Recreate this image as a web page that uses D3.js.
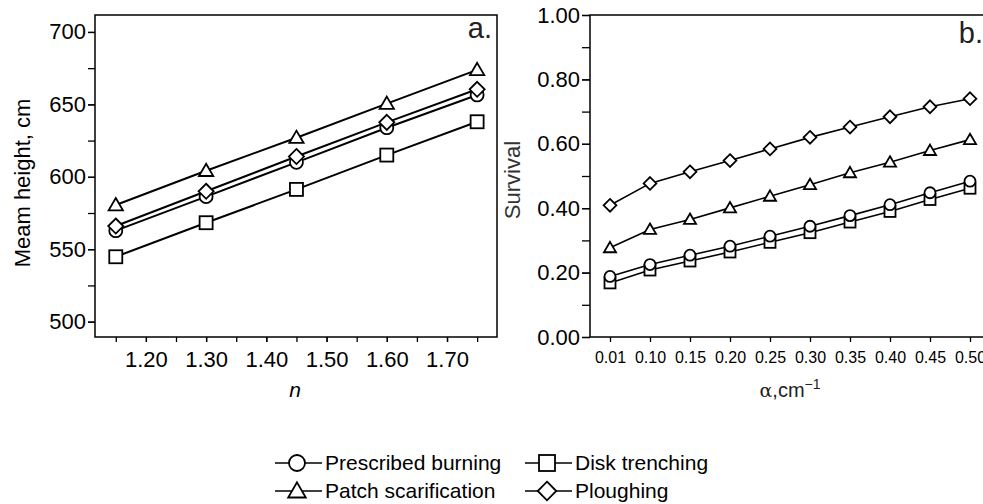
<!DOCTYPE html>
<html>
<head>
<meta charset="utf-8">
<script src="https://cdn.jsdelivr.net/npm/d3@7"></script>
<style>
  body { margin: 0; background: #fff; }
  svg { display: block; font-family: "Liberation Sans", Arial, sans-serif; }
</style>
</head>
<body>
<svg id="chart" width="983" height="504"></svg>
<script>
// panel a: mean height vs n
const nValues = [1.15, 1.30, 1.45, 1.60, 1.75];
const heightBurning = [562.8, 586.3, 610, 633.9, 656.5];
const heightTrenching = [544.8, 568.3, 591.3, 615, 638];
const heightScarif = [580.5, 604.2, 627, 650.5, 673.8];
const heightPlough = [566, 590, 614, 637.6, 660.4];
const nTickLabels = [1.20, 1.30, 1.40, 1.50, 1.60, 1.70];
const heightTicks = [500, 550, 600, 650, 700];

// panel b: survival vs alpha
const alphaLabels = ["0.01", "0.10", "0.15", "0.20", "0.25", "0.30", "0.35", "0.40", "0.45", "0.50"];
const survBurning = [0.188, 0.225, 0.254, 0.282, 0.313, 0.344, 0.377, 0.411, 0.448, 0.484];
const survTrenching = [0.168, 0.208, 0.236, 0.264, 0.294, 0.324, 0.357, 0.39, 0.427, 0.462];
const survScarif = [0.277, 0.334, 0.365, 0.401, 0.437, 0.473, 0.510, 0.543, 0.579, 0.613];
const survPlough = [0.409, 0.477, 0.513, 0.548, 0.584, 0.620, 0.652, 0.684, 0.715, 0.740];
const survTicks = [0, 0.2, 0.4, 0.6, 0.8, 1.0];

const treatments = ["Prescribed burning", "Disk trenching", "Patch scarification", "Ploughing"];
const shapes = ["circle", "square", "triangle", "diamond"];

const svg = d3.select("#chart");

function marker(g, shape, x, y, s) {
  let el;
  if (shape === "circle") {
    el = g.append("circle").attr("cx", x).attr("cy", y).attr("r", s * 0.5);
  } else if (shape === "square") {
    el = g.append("rect").attr("x", x - s / 2).attr("y", y - s / 2).attr("width", s).attr("height", s);
  } else if (shape === "triangle") {
    const h = s * 0.9;
    el = g.append("path").attr("d", `M${x},${y - h * 0.6}L${x + s * 0.55},${y + h * 0.45}L${x - s * 0.55},${y + h * 0.45}Z`);
  } else {
    const r = s * 0.58;
    el = g.append("path").attr("d", `M${x},${y - r}L${x + r},${y}L${x},${y + r}L${x - r},${y}Z`);
  }
  el.attr("fill", "#fff").attr("stroke", "#000").attr("stroke-width", 1.8);
}

function styleAxis(g, fs) {
  g.select(".domain").remove();
  g.selectAll(".tick line").attr("stroke", "#000").attr("stroke-width", 1.3);
  g.selectAll(".tick text").attr("fill", "#000").attr("font-size", fs)
    .attr("font-family", "'Liberation Sans', Arial, sans-serif");
}

// ---------- panel a ----------
const ax = d3.scaleLinear().domain([1.1155, 1.783]).range([95, 497]);
const ay = d3.scaleLinear().domain([489.4, 711.7]).range([337, 15]);

const pa = svg.append("g");
pa.append("g").attr("transform", "translate(95,0)")
  .call(d3.axisLeft(ay).tickValues(d3.range(500, 711, 25)).tickSize(7).tickFormat(() => ""))
  .call(g => styleAxis(g, 22));
pa.append("g").attr("transform", "translate(95,0)")
  .call(d3.axisLeft(ay).tickValues(heightTicks).tickSize(7).tickPadding(2).tickFormat(d3.format("d")))
  .call(g => styleAxis(g, 22));
pa.append("g").attr("transform", "translate(0,337)")
  .call(d3.axisBottom(ax).tickValues(d3.range(0, 13).map(i => 1.15 + i * 0.05)).tickSize(5).tickFormat(() => ""))
  .call(g => styleAxis(g, 22));
pa.append("g").attr("transform", "translate(0,337)")
  .call(d3.axisBottom(ax).tickValues(nTickLabels).tickSize(5).tickPadding(9).tickFormat(d3.format(".2f")))
  .call(g => styleAxis(g, 22));
pa.append("rect").attr("x", 95).attr("y", 15).attr("width", 402).attr("height", 322)
  .attr("fill", "none").attr("stroke", "#000").attr("stroke-width", 1.5);

const aSeries = [heightBurning, heightTrenching, heightScarif, heightPlough];
const aLine = d3.line().x((d, i) => ax(nValues[i])).y(d => ay(d));
[2, 3, 0, 1].forEach(k => {
  pa.append("path").attr("d", aLine(aSeries[k])).attr("fill", "none")
    .attr("stroke", "#000").attr("stroke-width", 2);
});
[0, 3, 2, 1].forEach(k => {
  aSeries[k].forEach((v, i) => marker(pa, shapes[k], ax(nValues[i]), ay(v), 13));
});
pa.append("text").attr("x", 492).attr("y", 38).attr("text-anchor", "end")
  .attr("font-size", 29).attr("fill", "#222").text("a.");
pa.append("text").attr("transform", "translate(30,183) rotate(-90)").attr("text-anchor", "middle")
  .attr("font-size", 22).text("Meam height, cm");
pa.append("text").attr("x", 295).attr("y", 397).attr("text-anchor", "middle")
  .attr("font-size", 21).attr("font-style", "italic").text("n");

// ---------- panel b ----------
const bx = d3.scalePoint().domain(alphaLabels).range([590, 990]).padding(0.5);
const by = d3.scaleLinear().domain([0, 1]).range([337, 15]);

const pb = svg.append("g");
pb.append("g").attr("transform", "translate(590,0)")
  .call(d3.axisLeft(by).tickValues(d3.range(0, 11).map(i => i / 10)).tickSize(8).tickFormat(() => ""))
  .call(g => styleAxis(g, 22));
pb.append("g").attr("transform", "translate(590,0)")
  .call(d3.axisLeft(by).tickValues(survTicks).tickSize(8).tickPadding(2).tickFormat(d3.format(".2f")))
  .call(g => styleAxis(g, 22));
pb.append("g").attr("transform", "translate(0,337)")
  .call(d3.axisBottom(bx).tickSize(5).tickPadding(10))
  .call(g => styleAxis(g, 16));
pb.append("rect").attr("x", 590).attr("y", 15).attr("width", 400).attr("height", 322)
  .attr("fill", "none").attr("stroke", "#000").attr("stroke-width", 1.5);

const bSeries = [survBurning, survTrenching, survScarif, survPlough];
const bLine = d3.line().x((d, i) => bx(alphaLabels[i])).y(d => by(d));
[3, 2, 1, 0].forEach(k => {
  pb.append("path").attr("d", bLine(bSeries[k])).attr("fill", "none")
    .attr("stroke", "#000").attr("stroke-width", 1.6);
});
[3, 2, 1, 0].forEach(k => {
  bSeries[k].forEach((v, i) => marker(pb, shapes[k], bx(alphaLabels[i]), by(v), 11));
});
pb.append("text").attr("x", 983).attr("y", 43).attr("text-anchor", "end")
  .attr("font-size", 29).attr("fill", "#222").text("b.");
pb.append("text").attr("transform", "translate(520,180) rotate(-90)").attr("text-anchor", "middle")
  .attr("font-size", 22).attr("fill", "#333").text("Survival");
pb.append("text").attr("x", 790).attr("y", 397).attr("text-anchor", "middle")
  .attr("font-size", 20).attr("fill", "#222")
  .html('<tspan font-family="\'DejaVu Serif\', serif" font-size="19">α</tspan>,cm<tspan font-size="14" dy="-8">−1</tspan>');

// ---------- legend ----------
const legendPos = [[275, 463], [525, 463], [275, 491], [525, 491]];
const leg = svg.append("g");
treatments.forEach((name, k) => {
  const [x0, y0] = legendPos[k];
  leg.append("line").attr("x1", x0).attr("x2", x0 + 47).attr("y1", y0).attr("y2", y0)
    .attr("stroke", "#000").attr("stroke-width", 1.5);
  marker(leg, shapes[k], x0 + 22, y0, 16);
  leg.append("text").attr("x", x0 + 50).attr("y", y0 + 7).attr("font-size", 21).text(name);
});
</script>
</body>
</html>
